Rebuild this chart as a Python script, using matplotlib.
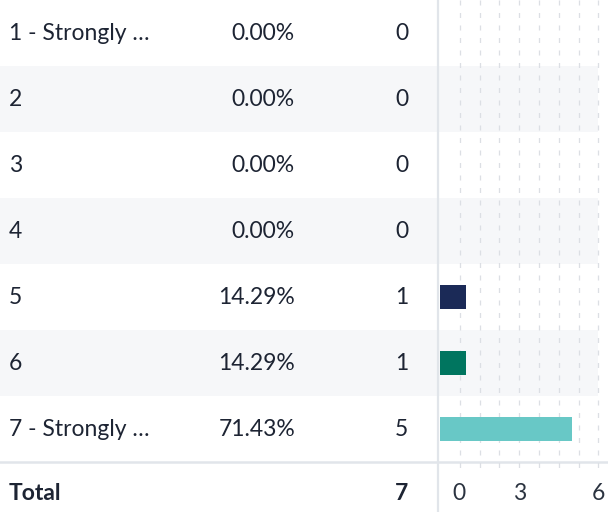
import numpy as np
import matplotlib
matplotlib.use('Agg')
import matplotlib.pyplot as plt
import matplotlib.transforms as mtransforms

plt.rcParams['font.family'] = ['Lato', 'DejaVu Sans']

labels = ['1 - Strongly …', '2', '3', '4', '5', '6', '7 - Strongly …']
percents = ['0.00%', '0.00%', '0.00%', '0.00%', '14.29%', '14.29%', '71.43%']
counts = [0, 0, 0, 0, 1, 1, 5]
total = 7
bar_colors = ['#1b2a57', '#1b2a57', '#1b2a57', '#1b2a57', '#1b2a57', '#00755f', '#68c8c6']
x_ticks = [0, 3, 6]

W, H = 608, 512
row_h = 66.0
top = -0.5                 # first row starts at the top edge
bottom = top + H / row_h
text_color = '#1d2433'
line_color = '#e1e5ea'
fs = 16.5


def py(px):
    # pixel row position -> row units
    return top + px / row_h


fig = plt.figure(figsize=(W / 100, H / 100), dpi=100)

# table axes: x in pixels, y in rows
bg = fig.add_axes([0, 0, 1, 1])
bg.set_xlim(0, W)
bg.set_ylim(bottom, top)
bg.axis('off')

for i in range(len(labels)):
    if i % 2 == 1:
        bg.axhspan(i - 0.5, i + 0.5, xmin=0, xmax=598 / W, color='#f6f7f9', lw=0, zorder=0)
    bg.text(9, i, labels[i], ha='left', va='center', fontsize=fs, color=text_color)
    bg.text(295, i, percents[i], ha='right', va='center', fontsize=fs, color=text_color)
    bg.text(408, i, str(counts[i]), ha='right', va='center', fontsize=fs, color=text_color)

total_y = py(494)
bg.text(9, total_y, 'Total', ha='left', va='center', fontsize=fs, fontweight='bold', color=text_color)
bg.text(408, total_y, str(total), ha='right', va='center', fontsize=fs, fontweight='bold', color=text_color)

bg.axhline(py(462), color=line_color, lw=1.8, zorder=2)
bg.axvline(438, color=line_color, lw=1.6, zorder=2)

# bar axes
ax = fig.add_axes([440 / W, 0, 1 - 440 / W, 1])
ax.patch.set_alpha(0)
px_per_unit = 26.4
ax.set_xlim(0, (W - 440) / px_per_unit)
ax.set_ylim(bottom, top)
ax.axis('off')

for g in np.arange(0.75, 6.01, 0.75):
    ax.plot([g, g], [top, py(470)], color='#dcdfe4', lw=0.9,
            linestyle=(0, (4, 6)), zorder=1)

ax.barh(range(len(counts)), counts, height=24 / row_h, color=bar_colors, zorder=3)

for t in x_ticks:
    # the zero label sits off the axis line
    off = mtransforms.offset_copy(ax.transData, fig=fig, x=19 if t == 0 else 0, y=0, units='dots')
    ax.text(t, total_y, str(t), ha='center', va='center', fontsize=fs,
            color='#2b3340', transform=off)

fig.savefig('out.png', dpi=100)
